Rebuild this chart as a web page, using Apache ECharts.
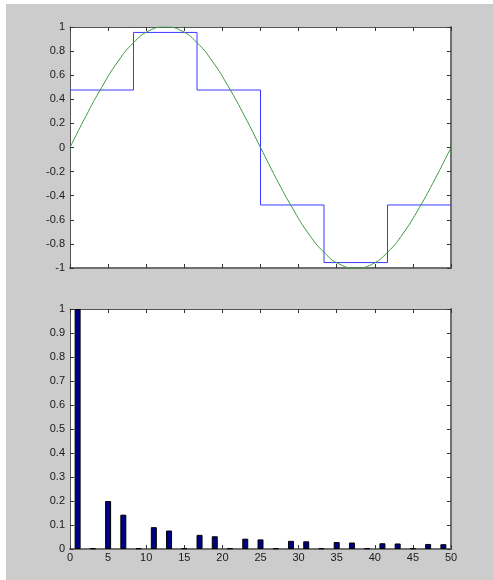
<!DOCTYPE html>
<html>
<head>
<meta charset="utf-8">
<script src="https://cdn.jsdelivr.net/npm/echarts@6/dist/echarts.min.js"></script>
<style>
  html, body { margin: 0; padding: 0; background: #ffffff; }
  #panel { position: absolute; left: 6px; top: 4px; width: 487px; height: 576px; background: #cccccc; }
  #chart { position: absolute; left: 0; top: 0; width: 493px; height: 580px; }
</style>
</head>
<body>
<div id="panel"></div>
<div id="chart"></div>
<script>
// Upper panel: one period of a sine wave and its six-step staircase approximation
const sinePhase = [0, 1/24, 2/24, 3/24, 4/24, 5/24, 6/24, 7/24, 8/24, 9/24, 10/24, 11/24, 12/24,
                   13/24, 14/24, 15/24, 16/24, 17/24, 18/24, 19/24, 20/24, 21/24, 22/24, 23/24, 1];
const sineValue = [0, 0.26, 0.5, 0.71, 0.87, 0.97, 1, 0.97, 0.87, 0.71, 0.5, 0.26, 0,
                   -0.26, -0.5, -0.71, -0.87, -0.97, -1, -0.97, -0.87, -0.71, -0.5, -0.26, 0];
const stepEdges = [0, 1/6, 2/6, 3/6, 4/6, 5/6, 1];
const stepLevels = [0.477, 0.955, 0.477, -0.477, -0.955, -0.477, -0.477];

// Lower panel: harmonic amplitude spectrum (odd harmonics)
const harmonic = [1, 3, 5, 7, 9, 11, 13, 15, 17, 19, 21, 23, 25, 27, 29, 31, 33, 35, 37, 39, 41, 43, 45, 47, 49];
const amplitude = [1, 0.003, 0.2, 0.143, 0.003, 0.091, 0.077, 0.003, 0.059, 0.053, 0.003, 0.043, 0.04, 0.003,
                   0.034, 0.032, 0.003, 0.029, 0.027, 0.003, 0.024, 0.023, 0.003, 0.021, 0.02];

const topTicks = { min: -1, max: 1, interval: 0.2 };
const bottomTicks = { min: 0, max: 1, interval: 0.1 };

const labelFont = { fontFamily: 'Liberation Sans, Arial, sans-serif', fontSize: 11, color: '#1a1a1a' };
const frameLine = { show: true, onZero: false, lineStyle: { color: '#555555', width: 1 } };
const shadeLine = { show: true, onZero: false, lineStyle: { color: '#707070', width: 2 } };
const innerTick = { show: true, inside: true, length: 4, lineStyle: { color: '#333333', width: 1 } };

const chart = echarts.init(document.getElementById('chart'), null, { renderer: 'canvas' });

chart.setOption({
  backgroundColor: 'transparent',
  animation: false,
  grid: [
    { left: 70, top: 27, width: 381, height: 241, show: true, backgroundColor: '#ffffff', borderWidth: 0 },
    { left: 70, top: 309, width: 381, height: 240, show: true, backgroundColor: '#ffffff', borderWidth: 0 }
  ],
  xAxis: [
    { type: 'value', gridIndex: 0, position: 'bottom', min: 0, max: 1, interval: 0.1,
      axisLine: shadeLine, axisTick: innerTick, axisLabel: { show: false }, splitLine: { show: false } },
    { type: 'value', gridIndex: 0, position: 'top', min: 0, max: 1, interval: 0.1,
      axisLine: frameLine, axisTick: innerTick, axisLabel: { show: false }, splitLine: { show: false } },
    { type: 'value', gridIndex: 1, position: 'bottom', min: 0, max: 50, interval: 5,
      axisLine: shadeLine, axisTick: innerTick,
      axisLabel: Object.assign({ margin: 3 }, labelFont), splitLine: { show: false } },
    { type: 'value', gridIndex: 1, position: 'top', min: 0, max: 50, interval: 5,
      axisLine: frameLine, axisTick: innerTick, axisLabel: { show: false }, splitLine: { show: false } }
  ],
  yAxis: [
    { type: 'value', gridIndex: 0, position: 'left', min: topTicks.min, max: topTicks.max, interval: topTicks.interval,
      axisLine: frameLine, axisTick: innerTick,
      axisLabel: Object.assign({ margin: 5 }, labelFont), splitLine: { show: false } },
    { type: 'value', gridIndex: 0, position: 'right', min: topTicks.min, max: topTicks.max, interval: topTicks.interval,
      axisLine: shadeLine, axisTick: innerTick, axisLabel: { show: false }, splitLine: { show: false } },
    { type: 'value', gridIndex: 1, position: 'left', min: bottomTicks.min, max: bottomTicks.max, interval: bottomTicks.interval,
      axisLine: frameLine, axisTick: innerTick,
      axisLabel: Object.assign({ margin: 5 }, labelFont), splitLine: { show: false } },
    { type: 'value', gridIndex: 1, position: 'right', min: bottomTicks.min, max: bottomTicks.max, interval: bottomTicks.interval,
      axisLine: shadeLine, axisTick: innerTick, axisLabel: { show: false }, splitLine: { show: false } }
  ],
  series: [
    {
      name: 'staircase', type: 'line', xAxisIndex: 0, yAxisIndex: 0, step: 'end',
      data: stepEdges.map((x, i) => [x, stepLevels[i]]),
      symbol: 'none', lineStyle: { color: '#3a3aff', width: 1 }, z: 3
    },
    {
      name: 'sine', type: 'line', xAxisIndex: 0, yAxisIndex: 0, smooth: true,
      data: sinePhase.map((x, i) => [x, sineValue[i]]),
      symbol: 'none', lineStyle: { color: '#3c9a3c', width: 1 }, z: 4
    },
    {
      name: 'spectrum', type: 'bar', xAxisIndex: 2, yAxisIndex: 2, barWidth: 6,
      data: harmonic.map((n, i) => [n, amplitude[i]]),
      itemStyle: { color: '#000080', borderColor: '#000000', borderWidth: 1 }
    }
  ]
});
</script>
</body>
</html>
